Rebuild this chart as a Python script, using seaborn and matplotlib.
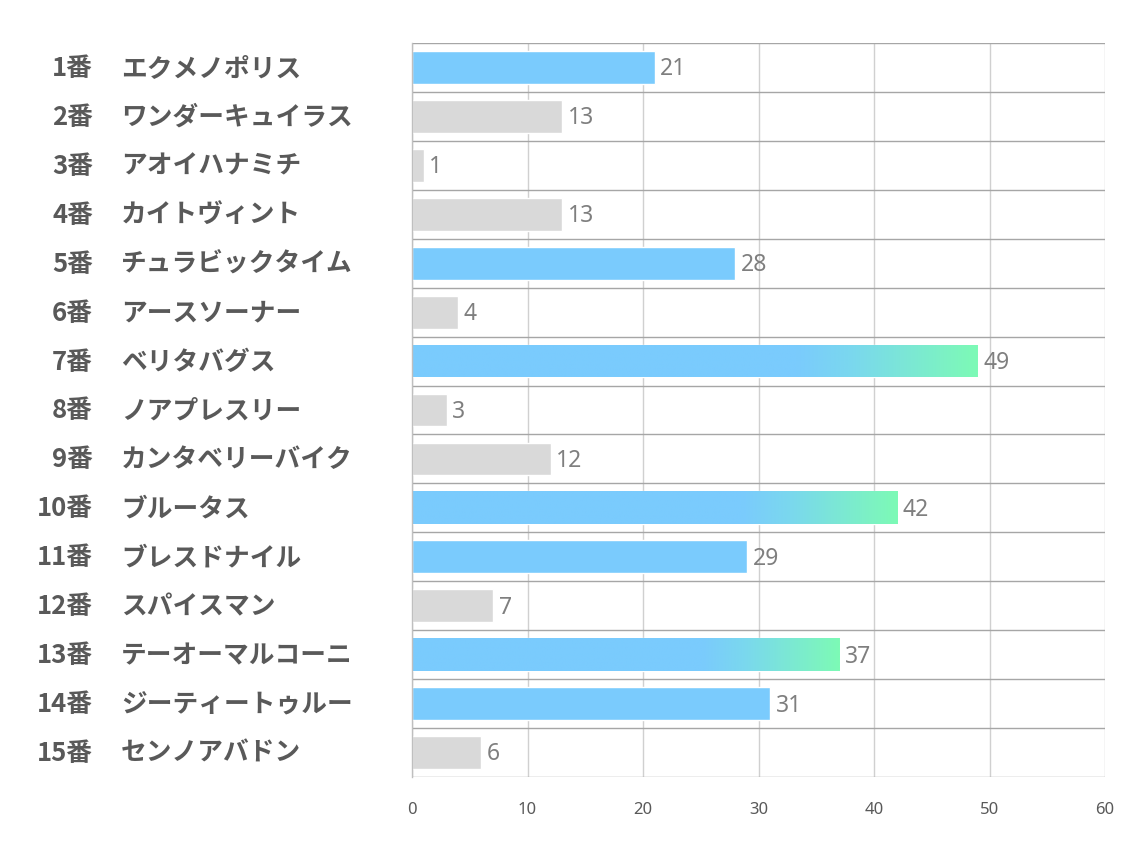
import numpy as np
import pandas as pd
import matplotlib.pyplot as plt
import matplotlib.transforms as mtransforms
from matplotlib.colors import LinearSegmentedColormap
import seaborn as sns

# データ
numbers = [f"{i}番" for i in range(1, 16)]
names = ["エクメノポリス", "ワンダーキュイラス", "アオイハナミチ", "カイトヴィント",
         "チュラビックタイム", "アースソーナー", "ベリタバグス", "ノアプレスリー",
         "カンタベリーバイク", "ブルータス", "ブレスドナイル", "スパイスマン",
         "テーオーマルコーニ", "ジーティートゥルー", "センノアバドン"]
values = [21, 13, 1, 13, 28, 4, 49, 3, 12, 42, 29, 7, 37, 31, 6]
groups = ["blue", "gray", "gray", "gray", "blue", "gray", "grad", "gray",
          "gray", "grad", "blue", "gray", "grad", "blue", "gray"]
xticks = [0, 10, 20, 30, 40, 50, 60]

BLUE = "#7ACBFD"
GREEN = "#7DFAB6"
GRAY = "#D9D9D9"
TEXT = "#595959"

df = pd.DataFrame({"label": [n + s for n, s in zip(numbers, names)],
                   "value": values, "group": groups})

sns.set_style("white")
plt.rcParams['font.family'] = ['Noto Sans CJK JP', 'DejaVu Sans']

fig = plt.figure(figsize=(11.34, 8.5), dpi=100)
ax = fig.add_axes([412 / 1134, 1 - 777 / 850, 693 / 1134, 734 / 850])

palette = {"blue": BLUE, "gray": GRAY, "grad": BLUE}
sns.barplot(data=df, x="value", y="label", hue="group", palette=palette,
            dodge=False, width=0.67, legend=False, ax=ax, saturation=1)

# グラデーションのバー
cmap = LinearSegmentedColormap.from_list(
    "bg", [(0, BLUE), (0.68, BLUE), (0.78, "#7AD8EE"), (1, GREEN)])
grad = np.linspace(0, 1, 256).reshape(1, -1)
for p in ax.patches:
    w = p.get_width()
    if w <= 0:
        continue
    idx = int(round(p.get_y() + p.get_height() / 2))
    if groups[idx] == "grad":
        im = ax.imshow(grad, cmap=cmap, aspect="auto",
                       extent=[p.get_x(), p.get_x() + w,
                               p.get_y() + p.get_height(), p.get_y()],
                       zorder=p.get_zorder() + 0.1)
        im.set_clip_path(p)
    ax.text(p.get_x() + w + 0.5, p.get_y() + p.get_height() / 2 + 0.04, f"{int(w)}",
            va="center", ha="left", fontsize=16.5, color="#7F7F7F",
            family=['Noto Sans', 'DejaVu Sans'])

ax.set_xlim(0, 60)
ax.set_ylim(14.5, -0.5)
ax.set_xticks(xticks)
ax.set_xticklabels([str(t) for t in xticks], fontsize=12, color=TEXT,
                   family=['Noto Sans', 'DejaVu Sans'])
ax.tick_params(axis="x", length=0, pad=18)
ax.set_yticks(range(15))
ax.set_yticklabels([])
ax.tick_params(axis="y", length=0)
ax.set_yticks(np.arange(-0.5, 15, 1), minor=True)
ax.tick_params(axis="y", which="minor", length=0)
ax.set_xlabel("")
ax.set_ylabel("")

ax.grid(axis="x", which="major", color="#D0D0D0", linewidth=1)
ax.grid(axis="y", which="minor", color="#A6A6A6", linewidth=1)
ax.set_axisbelow(True)
for s in ax.spines.values():
    s.set_visible(False)
ax.spines["left"].set_visible(True)
ax.spines["left"].set_color("#BFBFBF")
ax.spines["left"].set_linewidth(1)

# 左側のラベル
trans = mtransforms.blended_transform_factory(fig.transFigure, ax.transData)
for i, (n, s) in enumerate(zip(numbers, names)):
    ax.text(93 / 1134, i + 0.02, n, transform=trans, ha="right", va="center",
            fontsize=18.5, fontweight="bold", color=TEXT)
    ax.text(121 / 1134, i + 0.02, s, transform=trans, ha="left", va="center",
            fontsize=18.5, fontweight="bold", color=TEXT)

fig.savefig("out.png", dpi=100)
